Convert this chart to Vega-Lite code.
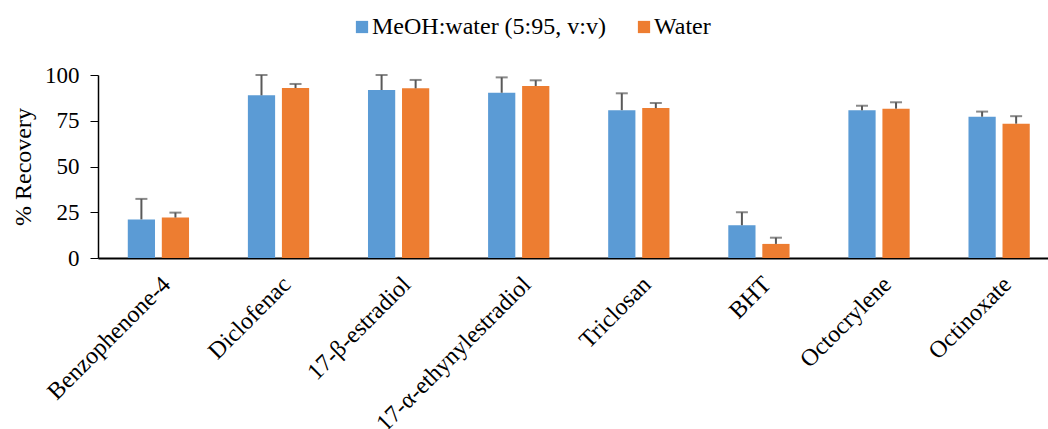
{
  "$schema": "https://vega.github.io/schema/vega-lite/v6.json",
  "autosize": "none",
  "width": 950,
  "height": 183,
  "padding": {"left": 98, "top": 75, "right": 0, "bottom": 171},
  "background": "white",
  "config": {
    "view": {"stroke": null},
    "font": "Liberation Serif",
    "axis": {"labelFont": "Liberation Serif", "titleFont": "Liberation Serif", "labelColor": "black", "titleColor": "black", "domainColor": "black", "tickColor": "black", "grid": false},
    "legend": {"labelFont": "Liberation Serif", "labelColor": "black", "labelLimit": 500}
  },
  "data": {
    "values": [
      {"compound": "Benzophenone-4", "series": "MeOH:water (5:95, v:v)", "value": 21.1, "upper": 32.3},
      {"compound": "Benzophenone-4", "series": "Water", "value": 22.1, "upper": 24.8},
      {"compound": "Diclofenac", "series": "MeOH:water (5:95, v:v)", "value": 88.9, "upper": 100},
      {"compound": "Diclofenac", "series": "Water", "value": 92.9, "upper": 95.1},
      {"compound": "17-β-estradiol", "series": "MeOH:water (5:95, v:v)", "value": 91.8, "upper": 100},
      {"compound": "17-β-estradiol", "series": "Water", "value": 92.7, "upper": 97.3},
      {"compound": "17-α-ethynylestradiol", "series": "MeOH:water (5:95, v:v)", "value": 90.3, "upper": 98.7},
      {"compound": "17-α-ethynylestradiol", "series": "Water", "value": 94.0, "upper": 97.1},
      {"compound": "Triclosan", "series": "MeOH:water (5:95, v:v)", "value": 80.8, "upper": 90.0},
      {"compound": "Triclosan", "series": "Water", "value": 81.9, "upper": 84.7},
      {"compound": "BHT", "series": "MeOH:water (5:95, v:v)", "value": 17.9, "upper": 25.0},
      {"compound": "BHT", "series": "Water", "value": 7.7, "upper": 11.1},
      {"compound": "Octocrylene", "series": "MeOH:water (5:95, v:v)", "value": 80.7, "upper": 83.2},
      {"compound": "Octocrylene", "series": "Water", "value": 81.6, "upper": 85.1},
      {"compound": "Octinoxate", "series": "MeOH:water (5:95, v:v)", "value": 77.2, "upper": 80.0},
      {"compound": "Octinoxate", "series": "Water", "value": 73.4, "upper": 77.5}
    ]
  },
  "encoding": {
    "x": {
      "field": "compound", "type": "nominal", "sort": null,
      "scale": {"paddingInner": 0.49, "paddingOuter": 0.2, "align": 0.62},
      "axis": {"title": null, "ticks": false, "labelAngle": -45, "labelAlign": "right", "labelBaseline": "top", "labelPadding": 14, "labelFont": "Liberation Serif", "labelFontSize": 24, "domainWidth": 2, "labelLimit": 400}
    },
    "xOffset": {
      "field": "series", "type": "nominal",
      "scale": {"domain": ["MeOH:water (5:95, v:v)", "Water"], "paddingInner": 0.2, "paddingOuter": 0}
    },
    "y": {
      "field": "value", "type": "quantitative",
      "scale": {"domain": [0, 100], "nice": false},
      "axis": {"title": "% Recovery", "values": [0, 25, 50, 75, 100], "labelFont": "Liberation Serif", "titleFont": "Liberation Serif", "labelFontSize": 23, "titleFontSize": 24, "titleFontWeight": "normal", "tickSize": 8, "labelPadding": 11, "titlePadding": 9, "domainWidth": 1.5}
    },
    "color": {
      "field": "series", "type": "nominal",
      "scale": {"domain": ["MeOH:water (5:95, v:v)", "Water"], "range": ["#5B9BD5", "#ED7D31"]},
      "legend": {"title": null, "orient": "none", "legendX": 252, "legendY": -60, "direction": "horizontal", "symbolType": "square", "symbolSize": 150, "symbolStrokeWidth": 0, "labelFont": "Liberation Serif", "labelFontSize": 24, "labelLimit": 500, "labelOffset": -2, "columnPadding": 26}
    }
  },
  "layer": [
    {
      "mark": {"type": "bar"}
    },
    {
      "mark": {"type": "rule", "strokeWidth": 2},
      "encoding": {
        "y2": {"field": "upper"},
        "color": {"value": "#595959"}
      }
    },
    {
      "mark": {"type": "tick", "thickness": 2, "size": 12},
      "encoding": {
        "y": {"field": "upper", "type": "quantitative"},
        "color": {"value": "#595959"}
      }
    }
  ]
}
